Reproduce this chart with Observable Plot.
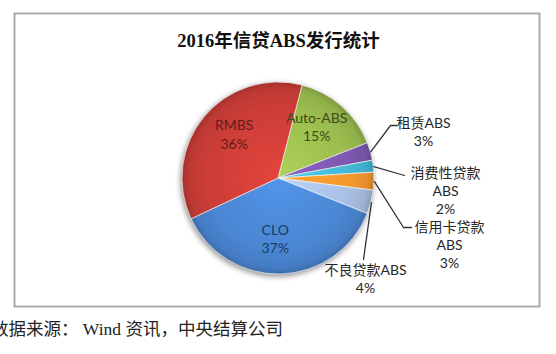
<!DOCTYPE html>
<html><head><meta charset="utf-8">
<script src="https://cdn.jsdelivr.net/npm/d3@7"></script>
<script src="https://cdn.jsdelivr.net/npm/@observablehq/plot@0.6"></script>
<style>body{margin:0;background:#fff;overflow:hidden}</style>
</head><body><div id="chart"></div>
<script>
// ---- data ----
const title = "2016年信贷ABS发行统计";
const caption = "数据来源： Wind 资讯，中央结算公司";
const categories = ["Auto-ABS", "租赁ABS", "消费性贷款ABS", "信用卡贷款ABS", "不良贷款ABS", "CLO", "RMBS"];
const labelNames = ["Auto-ABS", "租赁ABS", "消费性贷款\nABS", "信用卡贷款\nABS", "不良贷款ABS", "CLO", "RMBS"];
const shares = [15, 3, 2, 3, 4, 37, 36];

// ---- styles ----
const palette = ["#9BBD4E", "#7E58B0", "#43B9D6", "#F5972E", "#A9BFE4", "#4A86D2", "#CC3D37"];
const inkColors = ["#3a4a1a", "#222", "#222", "#222", "#222", "#1c3a68", "#5f1d1a"];

// ---- layout (pixel space == data space through identity-like scales) ----
const geom = {cx: 278, cy: 178, r: 96, startDeg: 14.5};
// inside labels: nudges from the centroid; outside labels: block centre + leader path after the slice edge
const labelLayout = [
  {inside: true, dx: 0, dy: -9},
  {inside: false, lx: 423, ly: 131, path: [[390, 125], [396, 125]]},
  {inside: false, lx: 445, ly: 190, path: [[404, 175]]},
  {inside: false, lx: 449, ly: 244, path: [[403, 227], [411, 227]]},
  {inside: false, lx: 365, ly: 277.5, path: [[363, 259]]},
  {inside: true, dx: -5, dy: 2},
  {inside: true, dx: 0, dy: -8}
];

const rows = categories.map((c, i) => ({i, category: c, share: shares[i], label: labelNames[i] + "\n" + shares[i] + "%"}));
const start = geom.startDeg * Math.PI / 180;
const arcs = d3.pie().sort(null).value(d => d.share).startAngle(start).endAngle(start + 2 * Math.PI)(rows);

const centroidGen = d3.arc().innerRadius(0).outerRadius(geom.r * 1.2);
const insideLabels = [], outsideLabels = [], leaders = [];
arcs.forEach((a, k) => {
  const L = labelLayout[k];
  if (L.inside) {
    const [px, py] = centroidGen.centroid(a);
    insideLabels.push({x: geom.cx + px + L.dx, y: geom.cy + py + L.dy, text: a.data.label, ink: inkColors[k]});
  } else {
    const mid = (a.startAngle + a.endAngle) / 2;
    const ex = geom.cx + geom.r * Math.sin(mid), ey = geom.cy - geom.r * Math.cos(mid);
    leaders.push({cat: a.data.category, x: ex, y: ey});
    L.path.forEach(([x, y]) => leaders.push({cat: a.data.category, x, y}));
    outsideLabels.push({x: L.lx, y: L.ly, text: a.data.label});
  }
});

function pieMark(index, scales) {
  const X = scales.x, Y = scales.y;
  const cx = X(geom.cx), cy = Y(geom.cy);
  const R = X(geom.cx + geom.r) - cx;
  const g = d3.create("svg:g");
  const defs = g.append("defs");
  const f = defs.append("filter").attr("id", "pieShadow").attr("x", "-20%").attr("y", "-20%").attr("width", "140%").attr("height", "140%");
  f.append("feGaussianBlur").attr("stdDeviation", 2.5);
  arcs.forEach((a, i) => {
    const base = d3.color(palette[i]);
    const grad = defs.append("radialGradient").attr("id", "sliceGrad" + i)
      .attr("gradientUnits", "userSpaceOnUse").attr("cx", 0).attr("cy", 0).attr("r", R);
    grad.append("stop").attr("offset", "0").attr("stop-color", base.brighter(0.3).formatHex());
    grad.append("stop").attr("offset", "0.75").attr("stop-color", base.formatHex());
    grad.append("stop").attr("offset", "0.93").attr("stop-color", base.darker(0.2).formatHex());
    grad.append("stop").attr("offset", "1").attr("stop-color", base.darker(0.6).formatHex());
  });
  g.append("circle").attr("cx", cx - 1).attr("cy", cy + 2).attr("r", R + 1)
    .attr("fill", "#555").attr("opacity", 0.55).attr("filter", "url(#pieShadow)");
  const arcGen = d3.arc().innerRadius(0).outerRadius(R);
  g.append("g").attr("transform", `translate(${cx},${cy})`)
    .selectAll("path").data(arcs).join("path")
    .attr("d", arcGen)
    .attr("fill", (d, i) => `url(#sliceGrad${i})`)
    .attr("stroke", "rgba(255,255,255,0.75)")
    .attr("stroke-width", 0.8)
    .attr("stroke-linejoin", "round");
  return g.node();
}

const chart = Plot.plot({
  width: 556,
  height: 354,
  margin: 0,
  x: {domain: [0, 556], range: [0, 556], axis: null},
  y: {domain: [0, 354], range: [0, 354], axis: null},
  style: {background: "white", fontFamily: "Lato, 'Noto Sans CJK SC', sans-serif", overflow: "hidden"},
  marks: [
    Plot.frame({stroke: "#ababab", strokeWidth: 2, insetLeft: 14, insetTop: 13, insetRight: 17, insetBottom: 48}),
    Plot.text([title], {frameAnchor: "top", dy: 40.6, lineAnchor: "middle", text: d => d,
      fontSize: 18.5, fontWeight: "bold", fill: "#111", fontFamily: "'Liberation Serif', 'Noto Sans CJK SC', serif"}),
    pieMark,
    Plot.line(leaders, {x: "x", y: "y", z: "cat", stroke: "#333", strokeWidth: 1.3, curve: "linear"}),
    Plot.text(insideLabels, {x: "x", y: "y", text: "text", fill: "ink", fontSize: 14, lineHeight: 1.3, lineAnchor: "middle"}),
    Plot.text(outsideLabels, {x: "x", y: "y", text: "text", fill: "#262626", fontSize: 14, lineHeight: 1.28, lineAnchor: "middle"}),
    Plot.text([caption], {frameAnchor: "bottom-left", dx: -9.5, dy: -25.6, lineAnchor: "middle", textAnchor: "start", text: d => d,
      fontSize: 17.5, fill: "#222", fontFamily: "'Liberation Serif', 'Noto Sans CJK SC', serif"})
  ]
});
document.getElementById("chart").appendChild(chart);
</script>
</body></html>
